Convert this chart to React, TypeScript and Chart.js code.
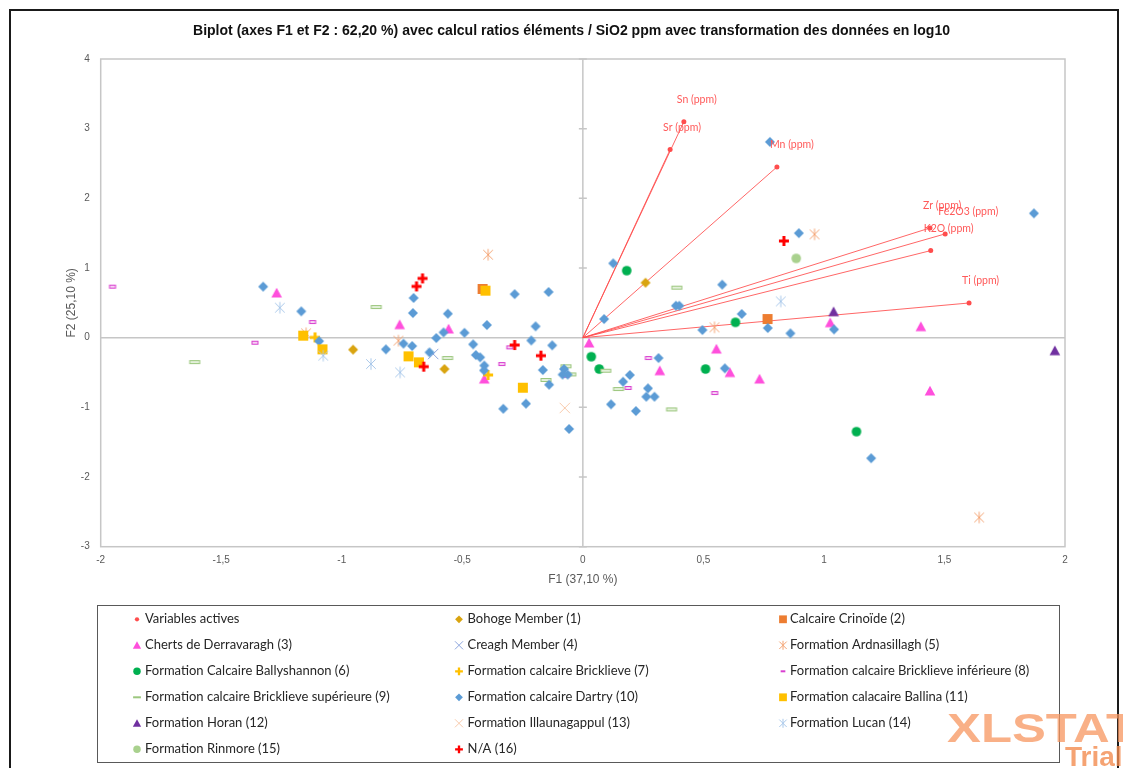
import { useEffect, useRef } from "react";
import { Chart, registerables } from "chart.js";

Chart.register(...registerables);

type Pt = [number, number];
type Kind = "dot" | "circle" | "diamond" | "square" | "triangle" | "x" | "asterisk" | "plus" | "dash";

const chartTitle =
  "Biplot (axes F1 et F2 : 62,20 %) avec calcul ratios éléments / SiO2 ppm avec transformation des données en log10";
const xAxisTitle = "F1 (37,10 %)";
const yAxisTitle = "F2 (25,10 %)";
const xTicks = [-2, -1.5, -1, -0.5, 0, 0.5, 1, 1.5, 2];
const yTicks = [-3, -2, -1, 0, 1, 2, 3, 4];

// Active variables (loadings)
const variableNames = ["Sn (ppm)", "Sr (ppm)", "Mn (ppm)", "Zr (ppm)", "Fe2O3 (ppm)", "K2O (ppm)", "Ti (ppm)"];
const variableCoords: Pt[] = [
  [0.419, 3.1], [0.362, 2.7], [0.805, 2.45], [1.44, 1.575], [1.503, 1.49], [1.443, 1.25], [1.602, 0.498],
];

// Observations by formation
const bohoge: Pt[] = [[-0.953, -0.172], [-0.574, -0.45], [0.26, 0.789]];
const crinoide: Pt[] = [[-0.416, 0.699], [0.766, 0.268]];
const cherts: Pt[] = [
  [-1.27, 0.642], [-0.76, 0.187], [-0.557, 0.125], [-0.409, -0.593], [0.026, -0.076], [0.554, -0.163],
  [0.319, -0.474], [0.61, -0.5], [0.733, -0.593], [1.026, 0.215], [1.402, 0.158], [1.44, -0.765],
];
const creagh: Pt[] = [[-0.621, -0.234]];
const ardnasillagh: Pt[] = [[-0.393, 1.191], [-1.148, 0.062], [-0.765, -0.043], [0.546, 0.148], [0.961, 1.483], [1.644, -2.58]];
const ballyshannon: Pt[] = [[0.182, 0.962], [0.633, 0.22], [0.035, -0.273], [0.068, -0.45], [0.509, -0.45], [1.135, -1.349]];
const bricklieve: Pt[] = [[-1.111, 0.004], [-0.393, -0.535]];
const bricklieveInf: Pt[] = [
  [-1.951, 0.732], [-1.121, 0.225], [-1.36, -0.072], [-0.303, -0.139], [-0.336, -0.378], [-0.07, -0.545],
  [0.272, -0.292], [0.188, -0.722], [0.547, -0.794],
];
const bricklieveSup: Pt[] = [
  [-1.61, -0.35], [-0.857, 0.44], [-0.561, -0.292], [-0.07, -0.41], [-0.05, -0.527], [-0.153, -0.607],
  [0.095, -0.474], [0.148, -0.737], [0.368, -1.029], [0.39, 0.718],
];
const dartry: Pt[] = [
  [-1.326, 0.732], [-1.168, 0.378], [-1.094, -0.05], [-0.817, -0.167], [-0.744, -0.086], [-0.708, -0.12],
  [-0.702, 0.57], [-0.705, 0.354], [-0.636, -0.21], [-0.608, -0.005], [-0.578, 0.076], [-0.56, 0.344],
  [-0.491, 0.07], [-0.455, -0.096], [-0.444, -0.249], [-0.426, -0.282], [-0.409, -0.4], [-0.41, -0.47],
  [-0.398, 0.182], [-0.283, 0.625], [-0.142, 0.656], [-0.196, 0.163], [-0.214, -0.04], [-0.127, -0.11],
  [-0.166, -0.464], [-0.14, -0.675], [-0.33, -1.02], [-0.236, -0.947], [-0.057, -1.31], [-0.078, -0.45],
  [-0.084, -0.53], [-0.063, -0.53], [0.088, 0.268], [0.126, 1.067], [0.386, 0.459], [0.4, 0.459],
  [0.578, 0.761], [0.659, 0.34], [0.496, 0.11], [0.767, 0.139], [0.861, 0.062], [1.042, 0.119],
  [0.314, -0.292], [0.195, -0.536], [0.167, -0.632], [0.589, -0.44], [0.27, -0.727], [0.263, -0.847],
  [0.297, -0.847], [0.117, -0.957], [0.22, -1.053], [0.776, 2.81], [1.871, 1.785], [0.896, 1.5],
  [1.196, -1.73],
];
const ballina: Pt[] = [[-1.16, 0.029], [-1.08, -0.167], [-0.723, -0.268], [-0.68, -0.354], [-0.404, 0.675], [-0.249, -0.718]];
const horan: Pt[] = [[1.04, 0.373], [1.958, -0.187]];
const illaunagappul: Pt[] = [[-0.075, -1.009]];
const lucan: Pt[] = [[-1.257, 0.43], [-1.077, -0.258], [-0.879, -0.378], [-0.758, -0.498], [0.821, 0.521]];
const rinmore: Pt[] = [[0.885, 1.138]];
const nonAttribue: Pt[] = [[-0.665, 0.851], [-0.69, 0.736], [-0.66, -0.416], [-0.283, -0.105], [-0.174, -0.258], [0.834, 1.388]];

interface MarkerSpec {
  kind: Kind;
  color: string;
  inner?: string;
  dashW?: number;
}
interface SeriesSpec extends MarkerSpec {
  label: string;
  points: Pt[];
}

const activeMarker: MarkerSpec = { kind: "dot", color: "#FF4D4D" };

const series: SeriesSpec[] = [
  { label: "Bohoge Member (1)", points: bohoge, kind: "diamond", color: "#D9A410" },
  { label: "Calcaire Crinoïde (2)", points: crinoide, kind: "square", color: "#ED7D31" },
  { label: "Cherts de Derravaragh (3)", points: cherts, kind: "triangle", color: "#FF4FDC" },
  { label: "Creagh Member (4)", points: creagh, kind: "x", color: "#8EA6DE" },
  { label: "Formation Ardnasillagh (5)", points: ardnasillagh, kind: "asterisk", color: "#F4A474" },
  { label: "Formation Calcaire Ballyshannon (6)", points: ballyshannon, kind: "circle", color: "#00B050" },
  { label: "Formation calcaire Bricklieve (7)", points: bricklieve, kind: "plus", color: "#FFC000" },
  { label: "Formation calcaire Bricklieve inférieure (8)", points: bricklieveInf, kind: "dash", color: "#D93FD0", inner: "#F6D2F3", dashW: 6 },
  { label: "Formation calcaire Bricklieve supérieure (9)", points: bricklieveSup, kind: "dash", color: "#9CC77E", inner: "#E3F0DA", dashW: 10 },
  { label: "Formation calcaire Dartry (10)", points: dartry, kind: "diamond", color: "#5B9BD5" },
  { label: "Formation calacaire Ballina (11)", points: ballina, kind: "square", color: "#FFC000" },
  { label: "Formation Horan (12)", points: horan, kind: "triangle", color: "#7030A0" },
  { label: "Formation Illaunagappul (13)", points: illaunagappul, kind: "x", color: "#F8CBAD" },
  { label: "Formation Lucan (14)", points: lucan, kind: "asterisk", color: "#A9C8EA" },
  { label: "Formation Rinmore (15)", points: rinmore, kind: "circle", color: "#A9D18E" },
  { label: "N/A (16)", points: nonAttribue, kind: "plus", color: "#FF0000" },
];

const SANS = '"Liberation Sans", Arial, sans-serif';
const LEGEND_FONT = 'Lato, "Open Sans", sans-serif';

function fmt(v: number): string {
  return String(v).replace(".", ",");
}

function paintMarker(g: CanvasRenderingContext2D, m: MarkerSpec, s: number, legend = false) {
  g.save();
  g.fillStyle = m.color;
  g.strokeStyle = m.color;
  g.beginPath();
  switch (m.kind) {
    case "dot":
      g.arc(0, 0, 2.4 * s, 0, Math.PI * 2);
      g.fill();
      break;
    case "circle":
      g.arc(0, 0, 4.8 * s, 0, Math.PI * 2);
      g.fill();
      break;
    case "diamond": {
      const r = 5 * s;
      g.moveTo(0, -r);
      g.lineTo(r, 0);
      g.lineTo(0, r);
      g.lineTo(-r, 0);
      g.closePath();
      g.fill();
      break;
    }
    case "square": {
      const h = 5 * s;
      g.rect(-h, -h, 2 * h, 2 * h);
      g.fill();
      break;
    }
    case "triangle":
      g.moveTo(0, -5.2 * s);
      g.lineTo(5.3 * s, 4.4 * s);
      g.lineTo(-5.3 * s, 4.4 * s);
      g.closePath();
      g.fill();
      break;
    case "x": {
      const r = 5.2 * s;
      g.lineWidth = 1;
      g.moveTo(-r, -r);
      g.lineTo(r, r);
      g.moveTo(r, -r);
      g.lineTo(-r, r);
      g.stroke();
      break;
    }
    case "asterisk": {
      const r = 4.8 * s;
      g.lineWidth = 1;
      g.moveTo(-r, -r);
      g.lineTo(r, r);
      g.moveTo(r, -r);
      g.lineTo(-r, r);
      g.moveTo(0, -r * 1.2);
      g.lineTo(0, r * 1.2);
      g.stroke();
      break;
    }
    case "plus": {
      const r = 5 * s;
      const t = 1.5 * s;
      g.rect(-r, -t, 2 * r, 2 * t);
      g.rect(-t, -r, 2 * t, 2 * r);
      g.fill();
      break;
    }
    case "dash": {
      const w = ((m.dashW || 8) * s) / 2;
      if (legend) {
        g.fillRect(-w, -1, 2 * w, 2);
      } else {
        const h = 1.5 * s;
        g.fillStyle = m.inner || "#fff";
        g.fillRect(-w, -h, 2 * w, 2 * h);
        g.lineWidth = 1;
        g.strokeRect(-w, -h, 2 * w, 2 * h);
      }
      break;
    }
  }
  g.restore();
}

function makeMarkerCanvas(m: MarkerSpec): HTMLCanvasElement {
  const c = document.createElement("canvas");
  c.width = 16;
  c.height = 16;
  const g = c.getContext("2d")!;
  g.translate(8, 8);
  paintMarker(g, m, 1);
  return c;
}

const decorPlugin = {
  id: "biplotDecor",
  beforeDatasetsDraw(chart: any) {
    const { ctx, chartArea: a, scales } = chart;
    const x0 = scales.x.getPixelForValue(0);
    const y0 = scales.y.getPixelForValue(0);
    ctx.save();
    ctx.strokeStyle = "#C6C6C6";
    ctx.lineWidth = 1.5;
    ctx.strokeRect(a.left, a.top, a.right - a.left, a.bottom - a.top);
    ctx.beginPath();
    ctx.moveTo(a.left, y0);
    ctx.lineTo(a.right, y0);
    ctx.moveTo(x0, a.top);
    ctx.lineTo(x0, a.bottom);
    for (const v of yTicks) {
      const py = scales.y.getPixelForValue(v);
      ctx.moveTo(x0 - 4, py);
      ctx.lineTo(x0 + 4, py);
    }
    ctx.stroke();
    ctx.restore();
  },
  afterDatasetsDraw(chart: any) {
    const { ctx, scales } = chart;
    ctx.save();
    ctx.font = `10.5px ${LEGEND_FONT}`;
    ctx.fillStyle = "#FF5A5A";
    ctx.textAlign = "left";
    ctx.textBaseline = "middle";
    variableNames.forEach((name, i) => {
      const px = scales.x.getPixelForValue(variableCoords[i][0]);
      const py = scales.y.getPixelForValue(variableCoords[i][1]);
      ctx.fillText(name, px - 7, py - 22);
    });
    ctx.restore();
  },
  afterDraw(chart: any) {
    const { ctx } = chart;
    ctx.save();
    // outer frame
    ctx.strokeStyle = "#1a1a1a";
    ctx.lineWidth = 2;
    ctx.strokeRect(10, 10, 1108, 800);

    // title
    ctx.font = `bold 14px ${SANS}`;
    ctx.fillStyle = "#111";
    ctx.textBaseline = "middle";
    ctx.textAlign = "center";
    const tw = ctx.measureText(chartTitle).width;
    ctx.save();
    ctx.translate(571.5, 31);
    ctx.scale(757 / tw, 1);
    ctx.fillText(chartTitle, 0, 0);
    ctx.restore();

    // legend box
    ctx.strokeStyle = "#595959";
    ctx.lineWidth = 1;
    ctx.strokeRect(97.5, 605.5, 962, 157);
    const entries: { label: string; spec: MarkerSpec }[] = [
      { label: "Variables actives", spec: activeMarker },
      ...series.map((s) => ({ label: s.label, spec: s as MarkerSpec })),
    ];
    const markerX = [137, 459, 783];
    const textX = [145, 467.5, 790];
    ctx.font = `13px ${LEGEND_FONT}`;
    ctx.fillStyle = "#262626";
    ctx.textAlign = "left";
    ctx.textBaseline = "middle";
    entries.forEach((e, i) => {
      const col = i % 3;
      const row = Math.floor(i / 3);
      const cy = 619.3 + row * 26;
      ctx.save();
      ctx.translate(markerX[col], cy);
      paintMarker(ctx, e.spec, e.spec.kind === "dot" ? 0.9 : 0.78, true);
      ctx.restore();
      ctx.fillStyle = "#262626";
      ctx.fillText(e.label, textX[col], cy);
    });

    // trial watermark
    ctx.textAlign = "left";
    ctx.textBaseline = "alphabetic";
    ctx.font = `bold 40px ${SANS}`;
    const ww = ctx.measureText("XLSTAT").width;
    ctx.save();
    ctx.translate(947, 742);
    ctx.scale(190 / ww, 1);
    ctx.fillStyle = "rgba(247,150,95,0.75)";
    ctx.fillText("XLSTAT", 0, 0);
    ctx.restore();
    ctx.font = `bold 28px ${SANS}`;
    ctx.fillStyle = "rgba(242,140,80,0.8)";
    ctx.fillText("Trial", 1065, 766);
    ctx.restore();
  },
};

export default function App() {
  const canvasRef = useRef<HTMLCanvasElement | null>(null);

  useEffect(() => {
    const canvas = canvasRef.current;
    if (!canvas) return;

    const vectorSets = variableNames.map((name, i) => ({
      label: name,
      data: [
        { x: 0, y: 0 },
        { x: variableCoords[i][0], y: variableCoords[i][1] },
      ],
      showLine: true,
      borderColor: "rgba(255,75,75,0.85)",
      borderWidth: 1,
      pointRadius: [0, 2.5],
      pointBackgroundColor: activeMarker.color,
      pointBorderWidth: 0,
      order: 100,
    }));

    const groupSets = series.map((s, i) => ({
      label: s.label,
      data: s.points.map(([x, y]) => ({ x, y })),
      pointStyle: makeMarkerCanvas(s),
      pointRadius: 5,
      showLine: false,
      order: 50 - i,
    }));

    const tickFont = { family: SANS, size: 10 };
    const titleFont = { family: SANS, size: 12 };

    const chart = new Chart(canvas, {
      type: "scatter",
      data: { datasets: [...vectorSets, ...groupSets] as any },
      options: {
        responsive: false,
        animation: false,
        events: [],
        layout: { padding: { left: 60, top: 59, right: 58, bottom: 176.8 } },
        plugins: {
          legend: { display: false },
          tooltip: { enabled: false },
          title: { display: false },
        },
        scales: {
          x: {
            type: "linear",
            min: -2,
            max: 2,
            afterFit: (s: any) => {
              s.height = 44.5;
            },
            afterBuildTicks: (s: any) => {
              s.ticks = xTicks.map((value) => ({ value }));
            },
            grid: { display: false, drawTicks: false },
            border: { display: false },
            ticks: {
              padding: 8,
              font: tickFont,
              color: "#595959",
              maxRotation: 0,
              autoSkip: false,
              callback: (v: any) => fmt(Number(v)),
            },
            title: { display: true, text: xAxisTitle, font: titleFont, color: "#595959", padding: { top: 4, bottom: 4 } },
          },
          y: {
            type: "linear",
            min: -3,
            max: 4,
            afterFit: (s: any) => {
              s.width = 40.7;
            },
            afterBuildTicks: (s: any) => {
              s.ticks = yTicks.map((value) => ({ value }));
            },
            grid: { display: false, drawTicks: false },
            border: { display: false },
            ticks: {
              padding: 11,
              font: tickFont,
              color: "#595959",
              autoSkip: false,
              callback: (v: any) => fmt(Number(v)),
            },
            title: { display: true, text: yAxisTitle, font: titleFont, color: "#595959", padding: { top: 4, bottom: 4 } },
          },
        },
      },
      plugins: [decorPlugin],
    });

    return () => chart.destroy();
  }, []);

  return (
    <div style={{ position: "fixed", left: 0, top: 0, width: 1123, height: 768, background: "#fff" }}>
      <canvas ref={canvasRef} width={1123} height={768} style={{ display: "block", width: 1123, height: 768 }} />
    </div>
  );
}
